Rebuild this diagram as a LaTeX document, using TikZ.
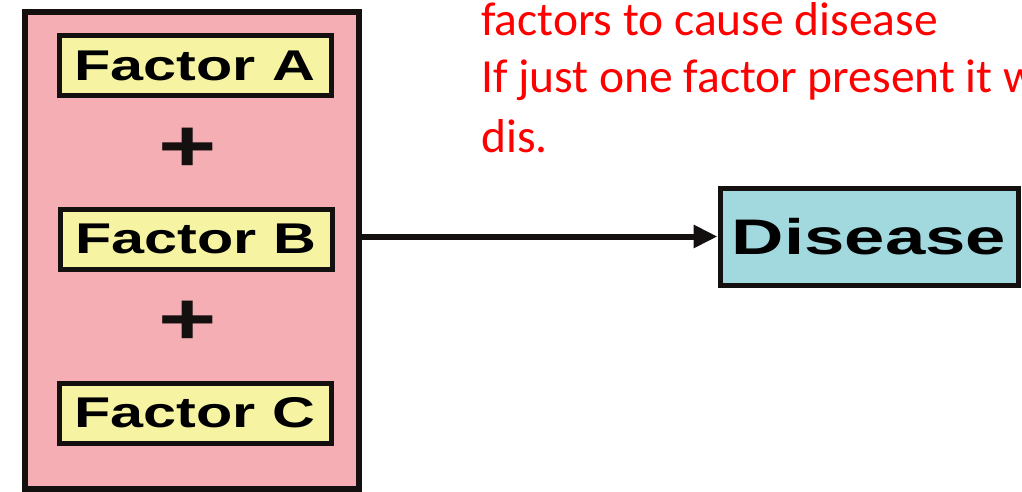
\documentclass[tikz,border=0pt]{standalone}
\usepackage{fontspec}
\usetikzlibrary{arrows.meta}
\newfontfamily\arialfont{Liberation Sans}
\newfontfamily\calibrifont{Carlito}
\definecolor{pinkfill}{HTML}{F5AEB3}
\definecolor{yellowfill}{HTML}{F6F3A2}
\definecolor{cyanfill}{HTML}{A2D9DE}
\definecolor{redtext}{HTML}{FF0000}
\definecolor{darkline}{HTML}{151010}
\newcommand\stretchtxt[2]{\scalebox{#1}[1]{#2}}
\tikzset{
  outerbox/.style={draw=darkline, line width=6pt, fill=pinkfill, minimum width=334pt, minimum height=477pt, inner sep=0pt},
  factorbox/.style={draw=darkline, line width=5pt, fill=yellowfill, minimum width=272pt, minimum height=60pt, inner sep=0pt,
    font=\arialfont\bfseries\fontsize{43}{43}\selectfont},
  plussign/.style={inner sep=0pt, font=\arialfont\bfseries\fontsize{74}{74}\selectfont, text=darkline},
  diseasebox/.style={draw=darkline, line width=5pt, fill=cyanfill, minimum width=298pt, minimum height=97pt, inner sep=0pt,
    font=\arialfont\bfseries\fontsize{50}{50}\selectfont},
  redline/.style={anchor=base west, inner sep=0pt, text=redtext, font=\calibrifont\fontsize{47.5}{47.5}\selectfont},
  connector/.style={draw=darkline, line width=6pt, -{Triangle[length=24pt,width=22pt]}}
}
\begin{document}
\begin{tikzpicture}[x=1pt,y=-1pt]
\useasboundingbox[fill=white] (0,0) rectangle (1022,492);
\begin{scope}
\clip (0,0) rectangle (1022,492);
\node[outerbox] (grp) at (192,250.5) {};
\node[factorbox] (fa) at (195,66) {\stretchtxt{1.38}{Factor A}};
\node[plussign] (p1) at (188,150) {\stretchtxt{1.35}{+}};
\node[factorbox] (fb) at (196,239) {\stretchtxt{1.38}{Factor B}};
\node[plussign] (p2) at (188,323) {\stretchtxt{1.35}{+}};
\node[factorbox] (fc) at (195,413) {\stretchtxt{1.38}{Factor C}};
\node[diseasebox] (dis) at (869,236.5) {\stretchtxt{1.45}{Disease}};
\draw[connector] (grp.east |- dis.west) -- (dis.west);
\node[redline] (t1) at (481,36) {factors to cause disease};
\node[redline] (t2) at (481,93) {If just one factor present it w};
\node[redline] (t3) at (481,152) {dis.};
\end{scope}
\end{tikzpicture}
\end{document}
